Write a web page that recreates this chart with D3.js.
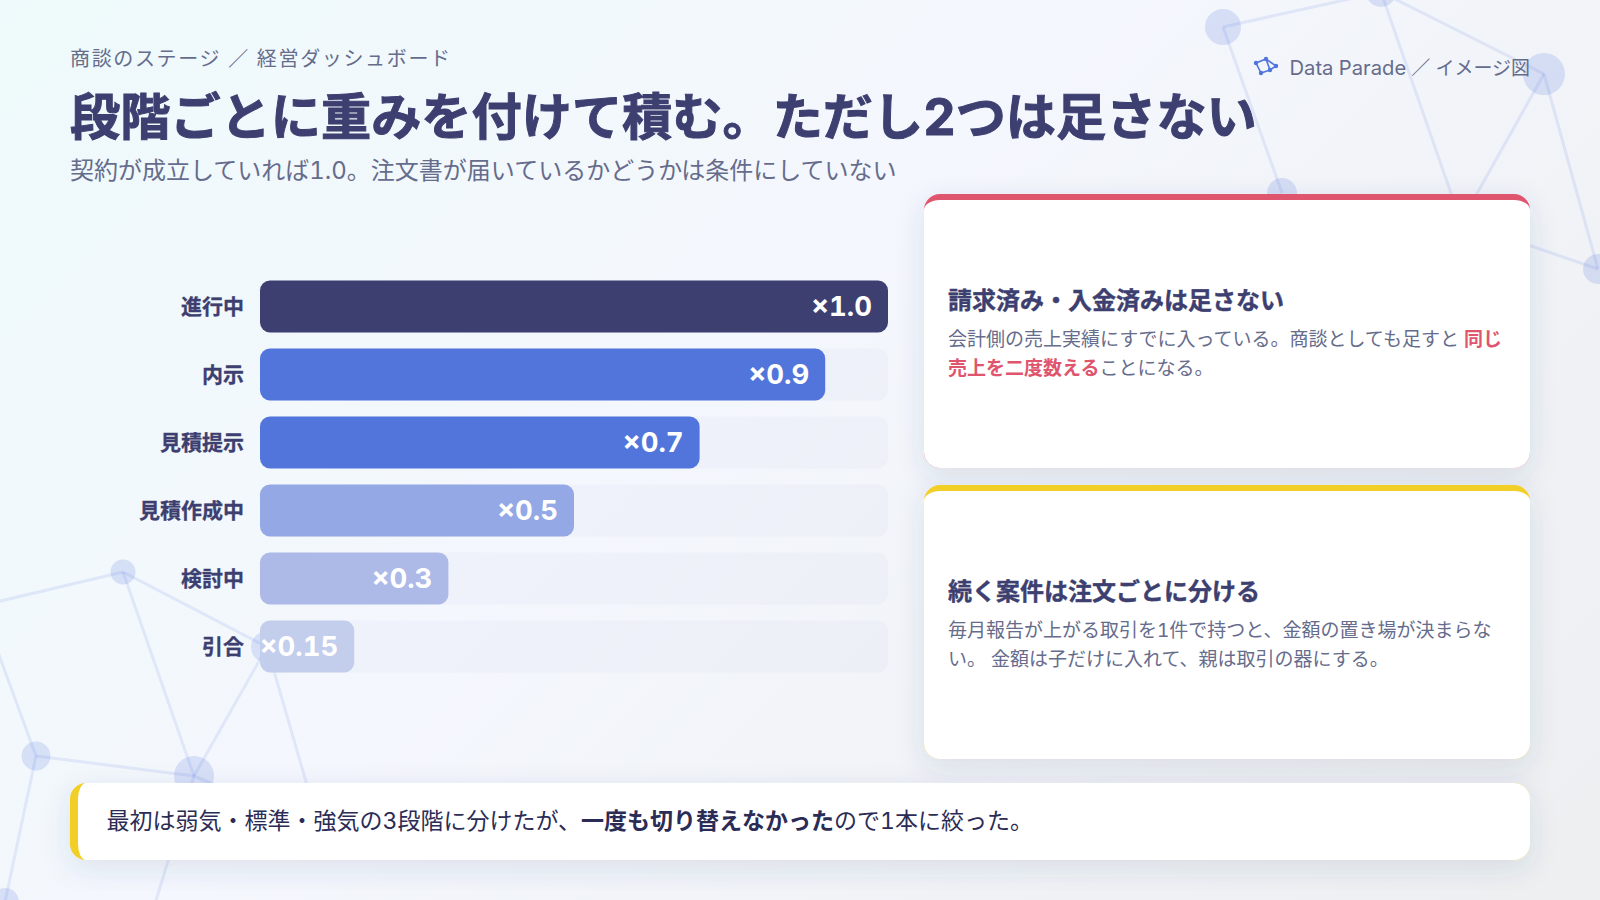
<!DOCTYPE html>
<html>
<head>
<meta charset="UTF-8">
<title>商談のステージ</title>
<script src="https://cdn.jsdelivr.net/npm/d3@7"></script>
<style>
  html, body { margin: 0; padding: 0; background: #f3f6fd; }
  svg { display: block; }
  text { font-family: Inter, "Noto Sans CJK JP", sans-serif; font-variant-numeric: tabular-nums; }
</style>
</head>
<body>
<div id="chart"></div>
<script>

// chart data

var stages  = ["進行中", "内示", "見積提示", "見積作成中", "検討中", "引合"]
var weights = [1.0, 0.9, 0.7, 0.5, 0.3, 0.15]
var weightLabels = ["×1.0", "×0.9", "×0.7", "×0.5", "×0.3", "×0.15"]

// texts, [string, bold?, red?]

var eyebrow  = "商談のステージ ／ 経営ダッシュボード"
var heading  = "段階ごとに重みを付けて積む。ただし2つは足さない"
var subtitle = "契約が成立していれば1.0。注文書が届いているかどうかは条件にしていない"
var brandLatin = "Data Parade"
var brandRest  = " ／ イメージ図"

var card1Title = "請求済み・入金済みは足さない"
var card1Lines = [
  [["会計側の売上実績にすでに入っている。商談としても足すと ", 0, 0], ["同じ", 1, 1]],
  [["売上を二度数える", 1, 1], ["ことになる。", 0, 0]]
]
var card2Title = "続く案件は注文ごとに分ける"
var card2Lines = [
  [["毎月報告が上がる取引を1件で持つと、金額の置き場が決まらな", 0, 0]],
  [["い。 金額は子だけに入れて、親は取引の器にする。", 0, 0]]
]
var calloutText = [
  ["最初は弱気・標準・強気の3段階に分けたが、", 0, 0],
  ["一度も切り替えなかった", 1, 0],
  ["ので1本に絞った。", 0, 0]
]

// background network, purely decoration

var netNodes = {
  a: [1223, 27, 18], b: [1381, -8, 15], c: [1544, 74, 21], d: [1282, 193, 15],
  e: [1598, 269, 15], f: [1461, 222, 12],
  g: [123, 572, 12.5], h: [36, 756, 14.5], i: [194, 776, 20], j: [267, 647, 16],
  k: [320, 830, 12], m: [-12, 604, 10], o: [-12, 625, 10], n: [5, 902, 14], q: [150, 920, 10]
}
var netEdges = ["ab", "bc", "ad", "bf", "cf", "ce", "fe", "gm", "gj", "gi", "ji", "jk", "hi", "ho", "hn", "iq", "ik"]

var navy = "#3d3f70", blue = "#5275dc", grey = "#666c8c", red = "#e0556e", yellow = "#f2cf27"

var width = 1600, height = 900

var svg = d3.select("#chart").append("svg")
  .attr("width", width)
  .attr("height", height)

var defs = svg.append("defs")

var bg = defs.append("linearGradient").attr("id", "bg")
  .attr("gradientUnits", "userSpaceOnUse")
  .attr("x1", 150).attr("y1", -200).attr("x2", 1380).attr("y2", 1030)
bg.append("stop").attr("offset", "0%").attr("stop-color", "#eefafb")
bg.append("stop").attr("offset", "45%").attr("stop-color", "#f4f7fd")
bg.append("stop").attr("offset", "100%").attr("stop-color", "#edeff1")

var shadow = defs.append("filter").attr("id", "shadow")
  .attr("x", "-10%").attr("y", "-30%").attr("width", "120%").attr("height", "170%")
shadow.append("feDropShadow")
  .attr("dx", 0).attr("dy", 8).attr("stdDeviation", 14)
  .attr("flood-color", navy).attr("flood-opacity", 0.12)

svg.append("rect").attr("width", width).attr("height", height).attr("fill", "url(#bg)")

// network

var net = svg.append("g")

net.selectAll("line").data(netEdges).enter().append("line")
  .attr("x1", function(d) { return netNodes[d[0]][0] })
  .attr("y1", function(d) { return netNodes[d[0]][1] })
  .attr("x2", function(d) { return netNodes[d[1]][0] })
  .attr("y2", function(d) { return netNodes[d[1]][1] })
  .attr("stroke", blue).attr("stroke-opacity", 0.12).attr("stroke-width", 3)

net.selectAll("circle").data(Object.values(netNodes)).enter().append("circle")
  .attr("cx", function(d) { return d[0] })
  .attr("cy", function(d) { return d[1] })
  .attr("r", function(d) { return d[2] })
  .attr("fill", blue).attr("fill-opacity", 0.18)

// header

svg.append("text").text(eyebrow)
  .attr("x", 70).attr("y", 65.5)
  .attr("font-size", 20).attr("letter-spacing", 1.65).attr("fill", grey)

svg.append("text").text(heading)
  .attr("x", 70).attr("y", 134.5)
  .attr("font-size", 50.2).attr("font-weight", 700).attr("fill", navy)
  .attr("stroke", navy).attr("stroke-width", 1)

svg.append("text").text(subtitle)
  .attr("x", 70).attr("y", 178.5)
  .attr("font-size", 24).attr("fill", grey)

var brandText = svg.append("text")
  .attr("x", 1530).attr("y", 75).attr("text-anchor", "end")
  .attr("font-size", 20.2).attr("fill", grey)
brandText.append("tspan").text(brandLatin)
brandText.append("tspan").attr("font-size", 19).text(brandRest)

// small logo next to the brand text

var logoPts = [[1256, 63], [1266, 59], [1276, 66], [1270, 70], [1261, 73]]
var logo = svg.append("g")
logo.append("path")
  .attr("d", d3.line()(logoPts) + "Z M1266,59 L1270,70 M1256,63 L1261,73")
  .attr("fill", "none").attr("stroke", blue).attr("stroke-width", 1.6)
logo.selectAll("circle").data(logoPts).enter().append("circle")
  .attr("cx", function(d) { return d[0] })
  .attr("cy", function(d) { return d[1] })
  .attr("r", 2.2).attr("fill", blue)

// bars

var x = d3.scaleLinear().domain([0, 1]).range([260, 888])
var y = d3.scaleBand().domain(stages).range([280.5, 672.5]).paddingInner(16 / 68)

var barColor = d3.scaleOrdinal().domain(stages)
  .range([navy, blue, blue, "#93a8e5", "#adb9e7", "#c3cdec"])

var rows = stages.map(function(s, i) { return { stage: s, weight: weights[i], label: weightLabels[i] } })

svg.selectAll(".track").data(rows).enter().append("rect")
  .attr("class", "track")
  .attr("x", x(0))
  .attr("y", function(d) { return y(d.stage) })
  .attr("width", x(1) - x(0))
  .attr("height", y.bandwidth())
  .attr("rx", 10)
  .attr("fill", navy).attr("fill-opacity", 0.025)

svg.selectAll(".bar").data(rows).enter().append("rect")
  .attr("class", "bar")
  .attr("x", x(0))
  .attr("y", function(d) { return y(d.stage) })
  .attr("width", function(d) { return x(d.weight) - x(0) })
  .attr("height", y.bandwidth())
  .attr("rx", 10)
  .attr("fill", function(d) { return barColor(d.stage) })

svg.selectAll(".weight").data(rows).enter().append("text")
  .attr("class", "weight")
  .attr("x", function(d) { return x(d.weight) - 16 })
  .attr("y", function(d) { return y(d.stage) + y.bandwidth() / 2 + 9.5 })
  .attr("text-anchor", "end")
  .attr("font-size", 27.5).attr("font-weight", 700).attr("fill", "#fff")
  .text(function(d) { return d.label })

var yAxis = svg.append("g")
  .attr("transform", "translate(" + x(0) + ",0.5)")
  .call(d3.axisLeft(y).tickSize(0).tickPadding(16))
yAxis.select(".domain").remove()
yAxis.selectAll("text")
  .attr("font-size", 21).attr("font-weight", 700).attr("fill", navy)
  .attr("stroke", navy).attr("stroke-width", 0.3)
  .style("font-family", 'Inter, "Noto Sans CJK JP", sans-serif')

// cards, the coloured edge follows the outer corner like a css border

function card(top, bottom, color, title, lines) {
  var l = 924, r = 1530, rad = 16, edge = 6
  var g = svg.append("g")
  g.append("rect")
    .attr("x", l).attr("y", top).attr("width", r - l).attr("height", bottom - top)
    .attr("rx", rad).attr("fill", color).attr("filter", "url(#shadow)")
  g.append("path")
    .attr("fill", "#fff")
    .attr("d", "M" + l + "," + (top + rad) +
      "A" + rad + "," + (rad - edge) + " 0 0 1 " + (l + rad) + "," + (top + edge) +
      "L" + (r - rad) + "," + (top + edge) +
      "A" + rad + "," + (rad - edge) + " 0 0 1 " + r + "," + (top + rad) +
      "L" + r + "," + (bottom - rad) +
      "A" + rad + "," + rad + " 0 0 1 " + (r - rad) + "," + bottom +
      "L" + (l + rad) + "," + bottom +
      "A" + rad + "," + rad + " 0 0 1 " + l + "," + (bottom - rad) + "Z")
  g.append("text").text(title)
    .attr("x", 948).attr("y", top + 115)
    .attr("font-size", 24).attr("font-weight", 700).attr("fill", navy)
    .attr("stroke", navy).attr("stroke-width", 0.4)
  lines.forEach(function(segs, i) {
    richText(g, 948, top + 151.5 + i * 29.2, 19, segs, grey)
  })
}

function richText(g, px, py, size, segs, color) {
  var t = g.append("text").attr("x", px).attr("y", py).attr("font-size", size).attr("fill", color)
  t.selectAll("tspan").data(segs).enter().append("tspan")
    .attr("font-weight", function(d) { return d[1] ? 700 : 400 })
    .attr("fill", function(d) { return d[2] ? red : null })
    .text(function(d) { return d[0] })
  return t
}

card(194, 468, red, card1Title, card1Lines)
card(485, 759, yellow, card2Title, card2Lines)

// callout at the bottom

var cl = 70, cr = 1530, ct = 783, cb = 860, crad = 16, cedge = 8
var callout = svg.append("g")
callout.append("rect")
  .attr("x", cl).attr("y", ct).attr("width", cr - cl).attr("height", cb - ct)
  .attr("rx", crad).attr("fill", yellow).attr("filter", "url(#shadow)")
callout.append("path")
  .attr("fill", "#fff")
  .attr("d", "M" + (cl + cedge) + "," + (ct + crad) +
    "A" + (crad - cedge) + "," + crad + " 0 0 1 " + (cl + crad) + "," + ct +
    "L" + (cr - crad) + "," + ct +
    "A" + crad + "," + crad + " 0 0 1 " + cr + "," + (ct + crad) +
    "L" + cr + "," + (cb - crad) +
    "A" + crad + "," + crad + " 0 0 1 " + (cr - crad) + "," + cb +
    "L" + (cl + crad) + "," + cb +
    "A" + (crad - cedge) + "," + crad + " 0 0 1 " + (cl + cedge) + "," + (cb - crad) + "Z")
richText(callout, 106.5, 829, 23, calloutText, "#2b2c55")

</script>
</body>
</html>
